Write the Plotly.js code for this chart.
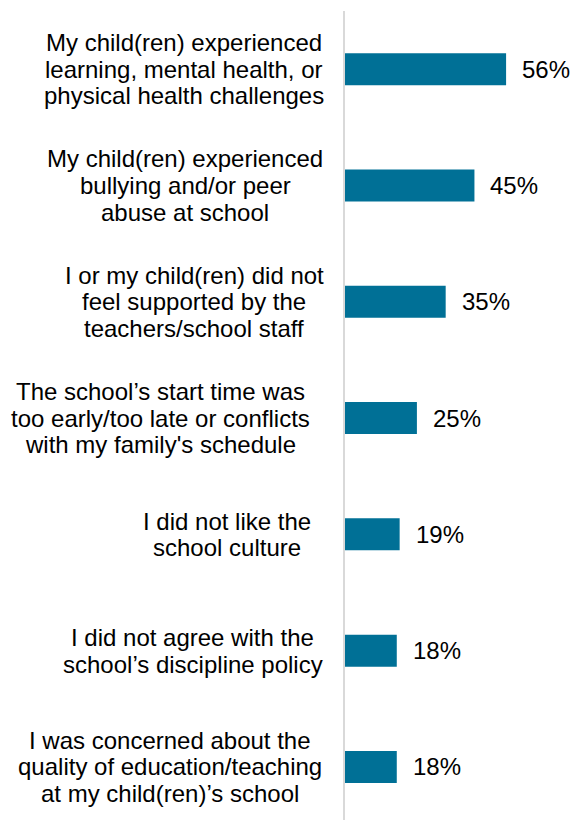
<!DOCTYPE html>
<html>
<head>
<meta charset="utf-8">
<script src="https://cdn.plot.ly/plotly-3.0.1.min.js"></script>
<style>html,body{margin:0;padding:0;background:#fff;}#chart{width:579px;height:820px;}</style>
</head>
<body>
<div id="chart"></div>
<script>
const categories = [
  "My child(ren) experienced<br>learning, mental health, or<br>physical health challenges",
  "My child(ren) experienced<br>bullying and/or peer<br>abuse at school",
  "I or my child(ren) did not<br>feel supported by the<br>teachers/school staff",
  "The school’s start time was<br>too early/too late or conflicts<br>with my family's schedule",
  "I did not like the<br>school culture",
  "I did not agree with the<br>school’s discipline policy",
  "I was concerned about the<br>quality of education/teaching<br>at my child(ren)’s school"
];
const values = [56, 45, 35, 25, 19, 18, 18];
const valueLabels = values.map(v => v + "%");

// layout: horizontal centre of each label block, in px from the page's left edge
const labelCentres = [184, 185, 194, 160, 226.5, 192.5, 170];

const FONT = "Liberation Sans, Arial, sans-serif";
const FS = 24;
const LINE = 26.7;
const PLOT_LEFT = 345;

const annotations = [];
categories.forEach((cat, i) => {
  const lines = cat.split("<br>");
  const n = lines.length;
  lines.forEach((ln, j) => {
    annotations.push({
      xref: "paper", yref: "y", x: 0, y: i,
      text: ln, showarrow: false,
      xanchor: "center", yanchor: "middle",
      xshift: labelCentres[i] - PLOT_LEFT, yshift: ((n - 1) / 2 - j) * LINE,
      font: {family: FONT, size: FS, color: "#000"}
    });
  });
  annotations.push({
    xref: "x", yref: "y", x: values[i], y: i,
    text: valueLabels[i], showarrow: false,
    xanchor: "left", yanchor: "middle", xshift: 14,
    font: {family: FONT, size: FS, color: "#000"}
  });
});

const trace = {
  type: "bar", orientation: "h",
  x: values, y: categories.map((c, i) => i),
  width: 0.275,
  marker: {color: "#007096"},
  hoverinfo: "none"
};

const layout = {
  width: 579, height: 820,
  margin: {l: PLOT_LEFT, r: 1, t: 11, b: 0, pad: 0},
  paper_bgcolor: "#fff", plot_bgcolor: "#fff",
  showlegend: false,
  xaxis: {range: [0, 81], showgrid: false, zeroline: false, showline: false, showticklabels: false, ticks: ""},
  yaxis: {range: [6.456, -0.5], showgrid: false, zeroline: false, showline: true,
          linecolor: "#d9d9d9", linewidth: 2, showticklabels: false, ticks: ""},
  annotations: annotations,
  font: {family: FONT}
};

Plotly.newPlot("chart", [trace], layout, {displayModeBar: false, staticPlot: true});
</script>
</body>
</html>
